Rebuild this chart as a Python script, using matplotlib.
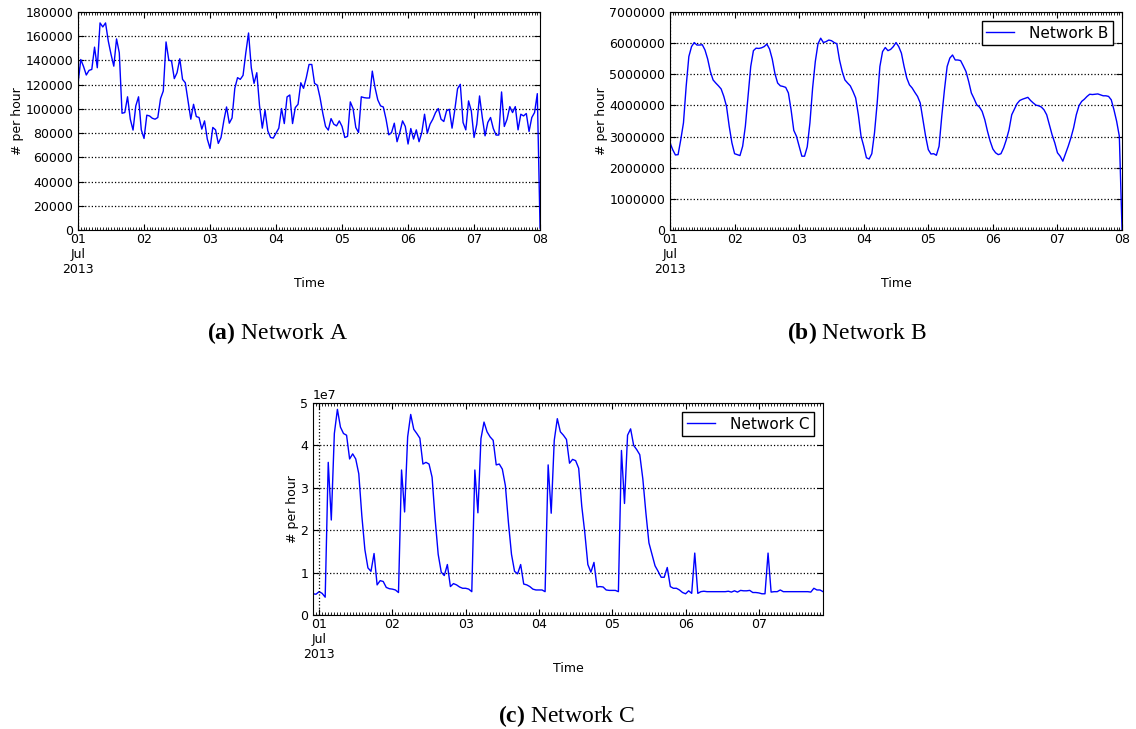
import numpy as np
import pandas as pd
import matplotlib
matplotlib.use("Agg")
import matplotlib.pyplot as plt
import matplotlib.dates as mdates
from matplotlib.ticker import FuncFormatter, MultipleLocator

# hourly counts, Network A (1 - 8 Jul 2013)
net_a = [
    121000, 140800, 135000, 128000, 131800, 132600, 151000, 134000, 171000, 167700, 171000, 156000,
    145000, 135300, 157800, 146300, 96400, 97000, 110000, 91500, 82500, 102500, 110000, 82700,
    75600, 94800, 94200, 92300, 91500, 92900, 108500, 114800, 155300, 140300, 139500, 125000,
    129900, 141400, 124400, 121600, 106600, 91500, 103800, 93700, 92900, 83300, 90100, 75100,
    67400, 84700, 82700, 71500, 76400, 90100, 101600, 88200, 92500, 117000, 125800, 124400,
    127700, 146300, 162700, 134000, 121100, 129900, 102500, 84100, 98900, 81900, 76400, 75900,
    80000, 84100, 100300, 87900, 109900, 111500, 87900, 101100, 103800, 121600, 117000, 125800,
    136700, 136700, 121100, 119500, 109300, 96400, 85500, 82500, 92000, 87400, 86000, 90100,
    85500, 76400, 77300, 105800, 100300, 84700, 80500, 110000, 109300, 109000, 109000, 131200,
    117500, 107400, 102500, 101600, 91500, 78600, 80500, 88200, 72900, 80500, 90100, 85500,
    71000, 83800, 75100, 82700, 72900, 80500, 95600, 80000, 87400, 91500, 97000, 100300,
    91500, 89600, 98400, 99700, 84100, 99200, 116700, 120300, 88800, 82700, 106600, 98400,
    76400, 87400, 110700, 92900, 77800, 88800, 92900, 83800, 78400, 78400, 114000, 85500,
    91500, 101900, 97000, 101900, 82700, 95600, 94200, 96200, 81400, 92900, 97000, 112600,
    1500,
]

# Network B, millions per hour
net_b = [
    2.80, 2.58, 2.41, 2.42, 2.90, 3.44, 4.61, 5.57, 5.89, 6.02, 5.94, 5.94,
    5.95, 5.78, 5.49, 5.09, 4.82, 4.72, 4.63, 4.53, 4.29, 3.97, 3.33, 2.80,
    2.45, 2.42, 2.39, 2.69, 3.33, 4.29, 5.25, 5.76, 5.84, 5.83, 5.85, 5.89,
    5.97, 5.81, 5.49, 5.02, 4.72, 4.63, 4.61, 4.58, 4.40, 3.86, 3.20, 3.01,
    2.69, 2.37, 2.37, 2.67, 3.44, 4.56, 5.41, 5.98, 6.16, 6.02, 6.05, 6.10,
    6.08, 6.02, 5.98, 5.46, 5.09, 4.82, 4.72, 4.63, 4.45, 4.24, 3.70, 3.01,
    2.69, 2.32, 2.28, 2.45, 3.12, 4.08, 5.25, 5.73, 5.86, 5.76, 5.80, 5.89,
    6.02, 5.89, 5.68, 5.25, 4.88, 4.66, 4.56, 4.42, 4.29, 4.08, 3.54, 3.01,
    2.58, 2.44, 2.45, 2.40, 2.69, 3.65, 4.50, 5.25, 5.52, 5.62, 5.46, 5.46,
    5.44, 5.27, 5.09, 4.77, 4.40, 4.22, 4.02, 3.95, 3.81, 3.54, 3.17, 2.85,
    2.60, 2.48, 2.42, 2.45, 2.64, 2.90, 3.22, 3.70, 3.88, 4.06, 4.16, 4.20,
    4.23, 4.26, 4.16, 4.08, 4.01, 3.99, 3.95, 3.86, 3.70, 3.38, 3.06, 2.80,
    2.48, 2.37, 2.21, 2.45, 2.69, 2.96, 3.28, 3.70, 3.99, 4.13, 4.20, 4.29,
    4.36, 4.35, 4.36, 4.37, 4.34, 4.31, 4.31, 4.29, 4.18, 3.86, 3.49, 3.01,
    0.02,
]

# Network C, units of 1e7 per hour (starts 30 Jun 22:00)
net_c = [
    0.50, 0.49, 0.55, 0.51, 0.42, 3.60, 2.24, 4.28, 4.85, 4.43, 4.28, 4.24,
    3.68, 3.80, 3.68, 3.33, 2.34, 1.54, 1.11, 1.03, 1.45, 0.71, 0.81, 0.79,
    0.65, 0.62, 0.61, 0.59, 0.53, 3.42, 2.43, 4.20, 4.73, 4.38, 4.28, 4.17,
    3.56, 3.60, 3.56, 3.25, 2.26, 1.43, 1.01, 0.93, 1.19, 0.67, 0.74, 0.71,
    0.66, 0.63, 0.63, 0.61, 0.55, 3.42, 2.41, 4.16, 4.55, 4.32, 4.20, 4.12,
    3.54, 3.56, 3.44, 3.05, 2.18, 1.43, 1.03, 0.97, 1.19, 0.73, 0.71, 0.67,
    0.61, 0.59, 0.59, 0.59, 0.55, 3.54, 2.40, 4.12, 4.63, 4.32, 4.24, 4.14,
    3.58, 3.67, 3.64, 3.46, 2.57, 1.94, 1.19, 1.01, 1.24, 0.66, 0.67, 0.66,
    0.59, 0.58, 0.58, 0.58, 0.55, 3.88, 2.63, 4.24, 4.39, 4.00, 3.90, 3.78,
    3.21, 2.41, 1.70, 1.43, 1.16, 1.03, 0.89, 0.89, 1.12, 0.67, 0.63, 0.63,
    0.59, 0.53, 0.50, 0.57, 0.51, 1.46, 0.51, 0.55, 0.56, 0.55, 0.55, 0.55,
    0.55, 0.55, 0.55, 0.55, 0.56, 0.54, 0.57, 0.54, 0.58, 0.57, 0.57, 0.58,
    0.53, 0.53, 0.52, 0.50, 0.50, 1.46, 0.54, 0.55, 0.55, 0.59, 0.55, 0.55,
    0.55, 0.55, 0.55, 0.55, 0.55, 0.55, 0.55, 0.54, 0.63, 0.59, 0.59, 0.55,
]

times_ab = pd.date_range("2013-07-01 00:00", periods=len(net_a), freq="h")
times_c = pd.date_range("2013-06-30 22:00", periods=len(net_c), freq="h")
month_start = pd.Timestamp("2013-07-01")

plt.rcParams["font.family"] = "DejaVu Sans"
plt.rcParams["mathtext.fontset"] = "custom"
plt.rcParams["mathtext.rm"] = "Liberation Serif"
plt.rcParams["mathtext.bf"] = "Liberation Serif:bold"
plt.rcParams["xtick.direction"] = "in"
plt.rcParams["ytick.direction"] = "in"
plt.rcParams["xtick.top"] = True
plt.rcParams["ytick.right"] = True
plt.rcParams["xtick.major.size"] = 4
plt.rcParams["ytick.major.size"] = 4
plt.rcParams["xtick.minor.size"] = 2
plt.rcParams["xtick.labelsize"] = 9
plt.rcParams["ytick.labelsize"] = 9


def day_label(x, pos):
    d = mdates.num2date(x)
    if d.day == 1:
        return "01\nJul\n2013"
    return d.strftime("%d")


def setup(ax, t, ymax, ystep):
    ax.set_xlim(t[0], t[-1])
    ax.set_ylim(0, ymax)
    ax.yaxis.set_major_locator(MultipleLocator(ystep))
    ax.xaxis.set_major_locator(mdates.DayLocator())
    ax.xaxis.set_minor_locator(mdates.HourLocator())
    ax.xaxis.set_major_formatter(FuncFormatter(day_label))
    ax.tick_params(axis="x", which="major", pad=2)
    ax.yaxis.grid(True, linestyle=":", color="k", linewidth=0.9)
    ax.axvline(month_start, linestyle=":", color="k", linewidth=0.9)
    ax.set_xlabel("Time", fontsize=9, labelpad=1)
    ax.set_ylabel("# per hour", fontsize=9, labelpad=1)


fig = plt.figure(figsize=(11.36, 7.29), dpi=100)

ax1 = fig.add_axes([0.0687, 0.6845, 0.4067, 0.299])
ax1.plot(times_ab, net_a, color="#0000ff", lw=1)
setup(ax1, times_ab, 180000, 20000)

ax2 = fig.add_axes([0.5898, 0.6845, 0.3979, 0.299])
ax2.plot(times_ab, np.array(net_b) * 1e6, color="#0000ff", lw=1, label="Network B")
setup(ax2, times_ab, 7000000, 1000000)
ax2.ticklabel_format(style="plain", axis="y")
leg_kw = dict(loc="upper right", fontsize=11, fancybox=False, edgecolor="k",
              framealpha=1, borderpad=0.3, handlelength=1.8, handletextpad=1.0,
              borderaxespad=0.6)
l2 = ax2.legend(**leg_kw)
l2.get_frame().set_linewidth(1)

ax3 = fig.add_axes([0.2755, 0.1564, 0.449, 0.2908])
ax3.plot(times_c, np.array(net_c) * 1e7, color="#0000ff", lw=1, label="Network C")
setup(ax3, times_c, 5e7, 1e7)
ax3.yaxis.get_offset_text().set_fontsize(9)
l3 = ax3.legend(**leg_kw)
l3.get_frame().set_linewidth(1)

cap_kw = dict(fontsize=17, ha="center", va="center", family="Liberation Serif")
fig.text(0.244, 0.543, r"$\mathbf{(a)}$ Network A", **cap_kw)
fig.text(0.754, 0.543, r"$\mathbf{(b)}$ Network B", **cap_kw)
fig.text(0.499, 0.018, r"$\mathbf{(c)}$ Network C", **cap_kw)

fig.savefig("out.png", dpi=100)
